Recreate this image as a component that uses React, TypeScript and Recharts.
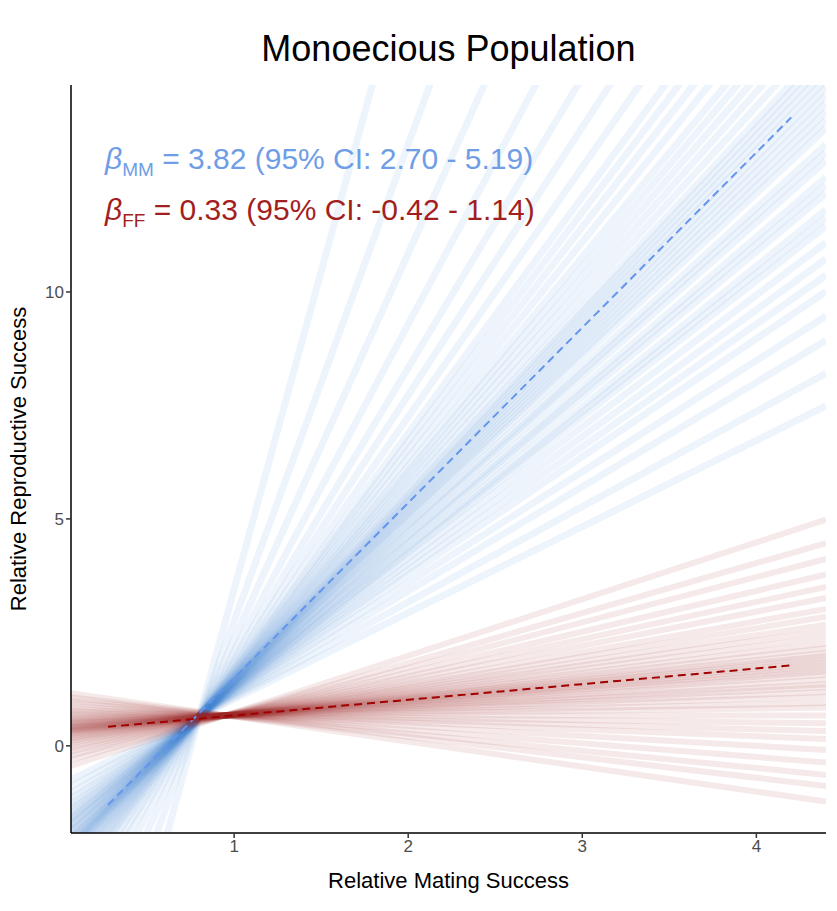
import React from "react";
import { ComposedChart, Line, XAxis, YAxis } from "recharts";

const xTicks = [1, 2, 3, 4];
const yTicks = [0, 5, 10];
const xRange = [0.06, 4.4];
const bluePivot = { x: 0.8, y: 0.65 };
const redPivot = { x: 0.95, y: 0.67 };
const blueSlopes = [1.9, 2.1, 2.3, 2.45, 2.6, 2.7, 2.8, 2.9, 3.0, 3.05, 3.1, 3.2, 3.25, 3.3, 3.4, 3.45, 3.5, 3.6, 3.65, 3.7, 3.75, 3.8, 3.85, 3.9, 3.95, 4.0, 4.05, 4.1, 4.2, 4.3, 4.4, 4.5, 4.6, 4.75, 4.9, 5.05, 5.2, 5.5, 5.9, 6.4, 7.2, 8.5, 10.5, 14.0];
const redSlopes = [-0.55, -0.45, -0.38, -0.3, -0.22, -0.15, -0.1, -0.05, 0.0, 0.05, 0.08, 0.12, 0.15, 0.18, 0.2, 0.23, 0.26, 0.28, 0.3, 0.32, 0.34, 0.36, 0.38, 0.4, 0.43, 0.46, 0.5, 0.54, 0.58, 0.63, 0.68, 0.75, 0.82, 0.9, 1.0, 1.1, 1.25];
const blueMean = { slope: 3.86, x0: 0.276, x1: 4.2, y0: -1.3 };
const redMean = { slope: 0.345, x0: 0.276, x1: 4.2, y0: 0.42 };

const mk = (p: { x: number; y: number }, s: number) =>
  xRange.map((x) => ({ x, y: p.y + s * (x - p.x) }));
const mkMean = (m: { slope: number; x0: number; x1: number; y0: number }) => [
  { x: m.x0, y: m.y0 },
  { x: m.x1, y: m.y0 + m.slope * (m.x1 - m.x0) },
];

const tickStyle = { fill: "#4d4d4d", fontSize: 17, fontFamily: "Liberation Sans, Arial" };

export default function App() {
  return (
    <div style={{ position: "absolute", left: 0, top: 0, width: 837, height: 911, fontFamily: "Liberation Sans, Arial", background: "#fff" }}>
      <ComposedChart width={837} height={911} margin={{ left: 31, top: 85, right: 11, bottom: 38 }}>
        <XAxis type="number" dataKey="x" domain={[0.063, 4.4]} ticks={xTicks} allowDataOverflow height={40}
          tick={tickStyle} stroke="#000" strokeWidth={1.5} tickLine={{ stroke: "#333" }} tickSize={5} />
        <YAxis type="number" dataKey="y" domain={[-1.92, 14.56]} ticks={yTicks} allowDataOverflow width={40}
          tick={tickStyle} stroke="#000" strokeWidth={1.5} tickLine={{ stroke: "#333" }} tickSize={5} />
        {blueSlopes.map((s, i) => (
          <Line key={"b" + i} data={mk(bluePivot, s)} dataKey="y" stroke="#3d85d4" strokeOpacity={0.09} strokeWidth={7} dot={false} isAnimationActive={false} />
        ))}
        {redSlopes.map((s, i) => (
          <Line key={"r" + i} data={mk(redPivot, s)} dataKey="y" stroke="#9e2a2b" strokeOpacity={0.1} strokeWidth={6} dot={false} isAnimationActive={false} />
        ))}
        <Line data={mkMean(blueMean)} dataKey="y" stroke="#6495ED" strokeWidth={2} strokeDasharray="8 5" dot={false} isAnimationActive={false} />
        <Line data={mkMean(redMean)} dataKey="y" stroke="#a00000" strokeWidth={2} strokeDasharray="8 5" dot={false} isAnimationActive={false} />
      </ComposedChart>
      <div style={{ position: "absolute", top: 28, left: 71, width: 755, textAlign: "center", fontSize: 36 }}>Monoecious Population</div>
      <div style={{ position: "absolute", top: 868, left: 71, width: 755, textAlign: "center", fontSize: 22 }}>Relative Mating Success</div>
      <div style={{ position: "absolute", left: 19, top: 459, fontSize: 22, transform: "translate(-50%,-50%) rotate(-90deg)", whiteSpace: "nowrap" }}>Relative Reproductive Success</div>
      <div style={{ position: "absolute", left: 105, top: 142, fontSize: 30, color: "#6f9de6", whiteSpace: "nowrap" }}>
        <i>β</i><sub style={{ fontSize: 19 }}>MM</sub> = 3.82 (95% CI: 2.70 - 5.19)
      </div>
      <div style={{ position: "absolute", left: 105, top: 193, fontSize: 30, color: "#a31f1f", whiteSpace: "nowrap" }}>
        <i>β</i><sub style={{ fontSize: 19 }}>FF</sub> = 0.33 (95% CI: -0.42 - 1.14)
      </div>
    </div>
  );
}
